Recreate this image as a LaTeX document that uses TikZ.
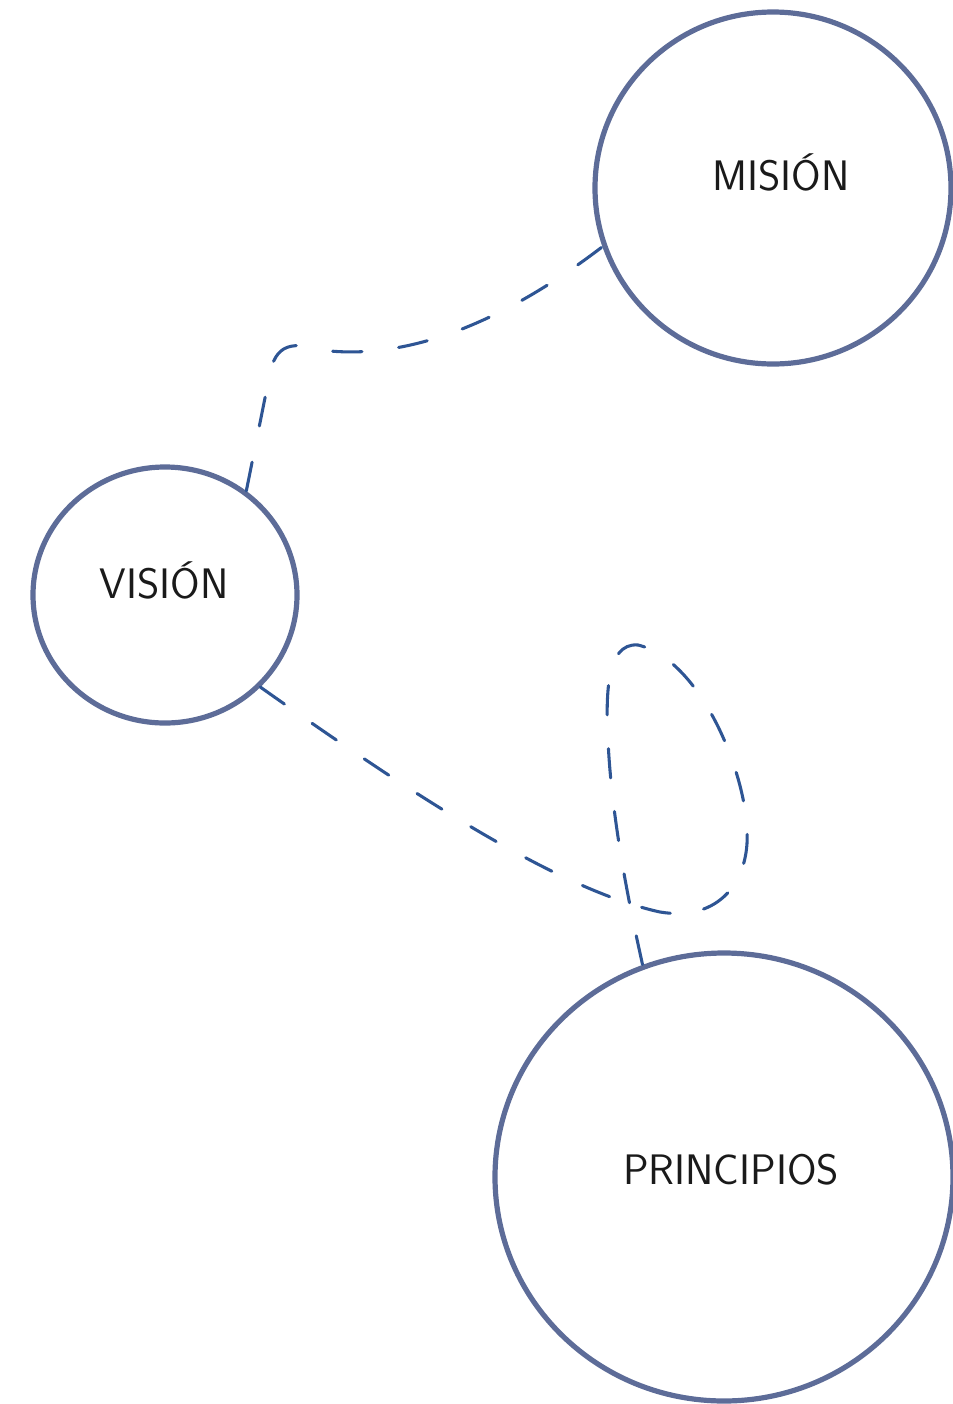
\documentclass[tikz,border=0pt]{standalone}
\usepackage{fontspec}
\usetikzlibrary{shapes.geometric}
\definecolor{ringc}{HTML}{5D6C98}
\definecolor{linkc}{HTML}{2E5594}
\definecolor{txtc}{HTML}{1A1A1A}
\tikzset{
  ring/.style={draw=ringc, line width=3.9pt, ellipse, inner sep=0pt},
  lbl/.style={text=txtc, font=\sffamily\fontsize{32}{36}\selectfont, inner sep=0pt},
  link/.style={draw=linkc, line width=2.3pt, line cap=round}
}
\begin{document}
\begin{tikzpicture}[x=0.75pt,y=-0.75pt]
\useasboundingbox (0,0) rectangle (953,1404);
\node[ring, minimum width=356*0.75pt, minimum height=352*0.75pt] (mis) at (773,188) {};
\node[ring, minimum width=264*0.75pt, minimum height=256*0.75pt] (vis) at (165,595) {};
\node[ring, minimum width=458*0.75pt, minimum height=448*0.75pt] (pri) at (724,1177) {};
\node[lbl] (tmis) at (781,172) {MISIÓN};
\node[lbl] (tvis) at (164,580) {VISIÓN};
\node[lbl] (tpri) at (731,1170) {PRINCIPIOS};
\draw[link, dash pattern=on 22pt off 27.7pt] (vis.52) -- (269,378) .. controls (275,342) and (292,341) .. (330,351)
  .. controls (430,360) and (530,302) .. (mis.199);
\draw[link, dash pattern=on 22pt off 25.35pt] (vis.-44) .. controls (420,800) and (560,890) .. (660,912)
  .. controls (720,922) and (750,880) .. (747,830)
  .. controls (745,770) and (700,660) .. (638,645)
  .. controls (605,642) and (606,700) .. (608,740)
  .. controls (612,830) and (635,930) .. (pri.111);
\end{tikzpicture}
\end{document}
